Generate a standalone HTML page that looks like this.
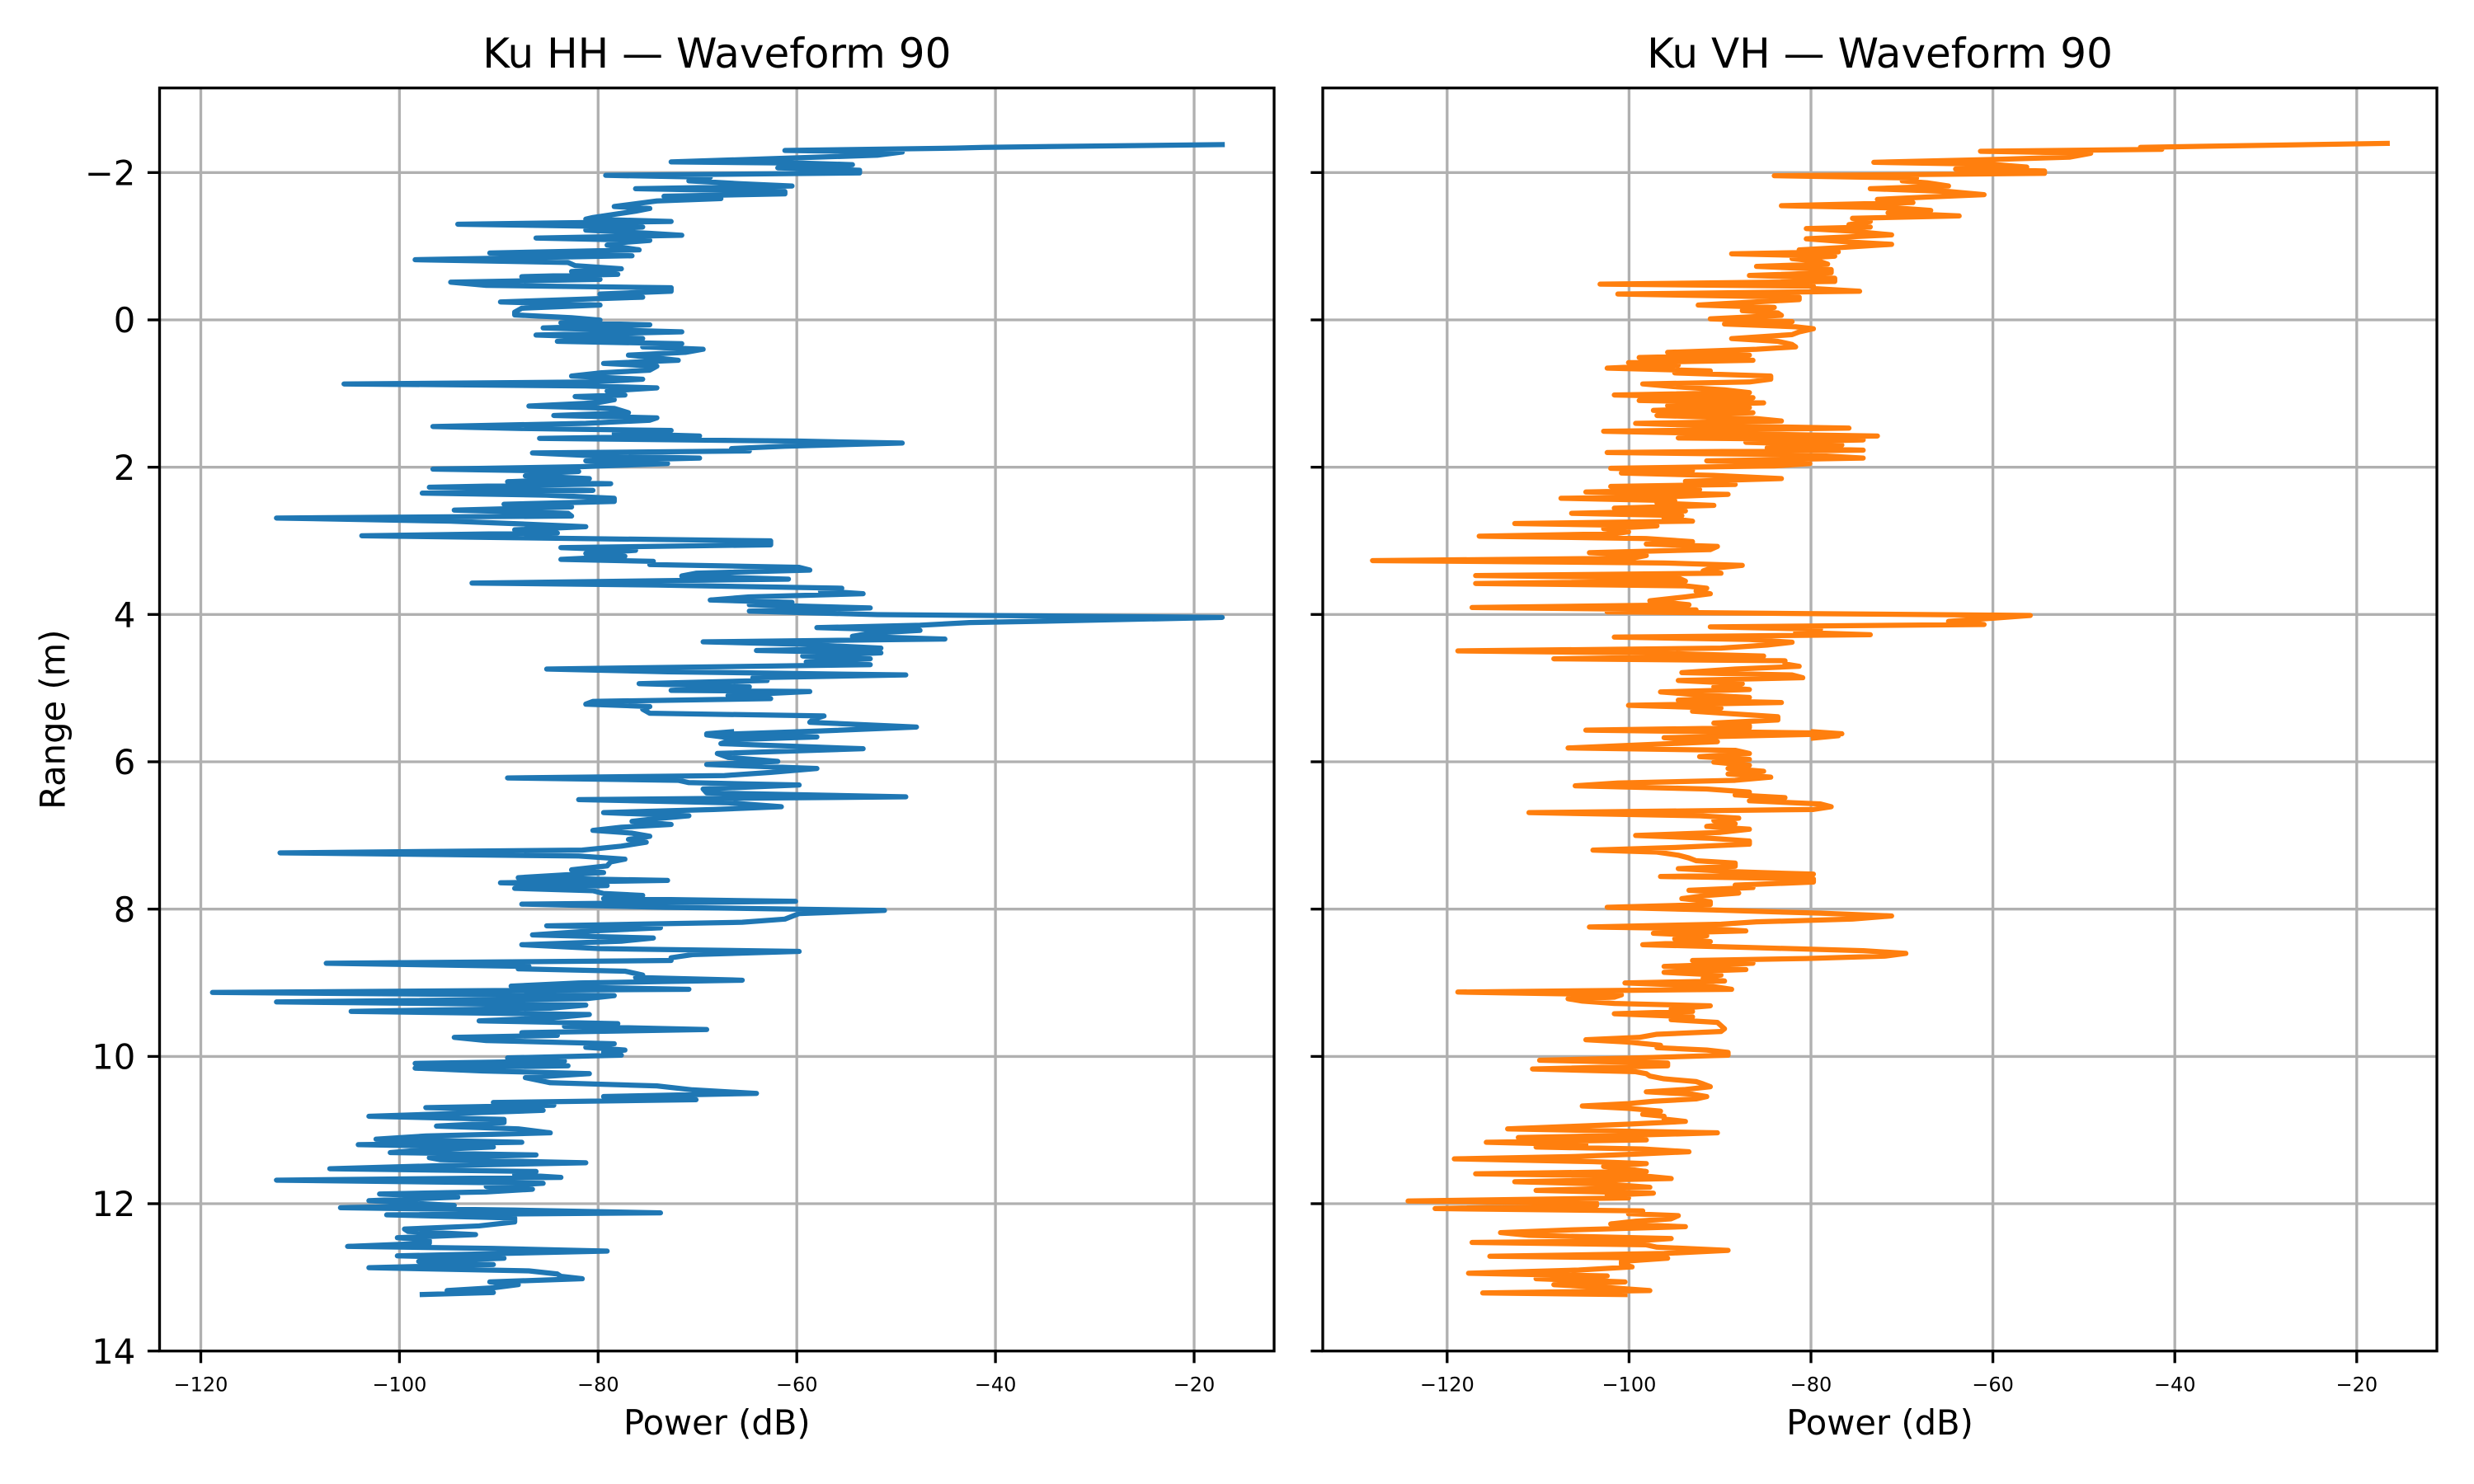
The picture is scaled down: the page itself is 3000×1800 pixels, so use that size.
<!DOCTYPE html>
<html>
<head>
<meta charset="utf-8">
<style>
html,body{margin:0;padding:0;background:#fff;}
svg{display:block;}
text{font-family:"DejaVu Sans","Liberation Sans",sans-serif;fill:#000;}
</style>
</head>
<body>
<svg width="3000" height="1800" viewBox="0 0 3000 1800" xmlns="http://www.w3.org/2000/svg">
<rect x="0" y="0" width="3000" height="1800" fill="#fff"/>
<defs>
<clipPath id="cl"><rect x="193.5" y="106.7" width="1351.5" height="1532"/></clipPath>
<clipPath id="cr"><rect x="1604" y="106.7" width="1351" height="1532"/></clipPath>
</defs>

<!-- LEFT GRID -->
<g stroke="#b0b0b0" stroke-width="3.33" fill="none">
<line x1="243.5" y1="106.7" x2="243.5" y2="1638.7"/>
<line x1="484.4" y1="106.7" x2="484.4" y2="1638.7"/>
<line x1="725.3" y1="106.7" x2="725.3" y2="1638.7"/>
<line x1="966.2" y1="106.7" x2="966.2" y2="1638.7"/>
<line x1="1207.1" y1="106.7" x2="1207.1" y2="1638.7"/>
<line x1="1448" y1="106.7" x2="1448" y2="1638.7"/>
<line x1="193.5" y1="209.3" x2="1545" y2="209.3"/>
<line x1="193.5" y1="388" x2="1545" y2="388"/>
<line x1="193.5" y1="566.7" x2="1545" y2="566.7"/>
<line x1="193.5" y1="745.3" x2="1545" y2="745.3"/>
<line x1="193.5" y1="924" x2="1545" y2="924"/>
<line x1="193.5" y1="1102.7" x2="1545" y2="1102.7"/>
<line x1="193.5" y1="1281.4" x2="1545" y2="1281.4"/>
<line x1="193.5" y1="1460" x2="1545" y2="1460"/>
</g>
<!-- RIGHT GRID -->
<g stroke="#b0b0b0" stroke-width="3.33" fill="none">
<line x1="1754.8" y1="106.7" x2="1754.8" y2="1638.7"/>
<line x1="1975.4" y1="106.7" x2="1975.4" y2="1638.7"/>
<line x1="2196" y1="106.7" x2="2196" y2="1638.7"/>
<line x1="2416.6" y1="106.7" x2="2416.6" y2="1638.7"/>
<line x1="2637.2" y1="106.7" x2="2637.2" y2="1638.7"/>
<line x1="2857.8" y1="106.7" x2="2857.8" y2="1638.7"/>
<line x1="1604" y1="209.3" x2="2955" y2="209.3"/>
<line x1="1604" y1="388" x2="2955" y2="388"/>
<line x1="1604" y1="566.7" x2="2955" y2="566.7"/>
<line x1="1604" y1="745.3" x2="2955" y2="745.3"/>
<line x1="1604" y1="924" x2="2955" y2="924"/>
<line x1="1604" y1="1102.7" x2="2955" y2="1102.7"/>
<line x1="1604" y1="1281.4" x2="2955" y2="1281.4"/>
<line x1="1604" y1="1460" x2="2955" y2="1460"/>
</g>

<!-- HH series -->
<g clip-path="url(#cl)">
<polyline fill="none" stroke="#1f77b4" stroke-width="6.25" stroke-linejoin="round" stroke-linecap="square" vector-effect="non-scaling-stroke" transform="matrix(0.862245 0 0 0.478316 193 150)" points="1495,53 1160,60 1120,62 880,68 1045,72 1010,80 720,97 905,100 975,104 870,112 985,118 985,125 628,131 775,136 745,145 815,152 890,158 670,165 880,172 880,178 710,184 790,190 700,196 640,210 690,215 670,222 610,238 600,242 720,248 420,255 680,262 600,270 690,278 735,283 530,290 690,296 640,303 630,308 675,320 465,328 665,335 360,345 575,352 585,360 650,368 580,375 645,382 510,388 620,395 410,402 460,410 720,416 720,425 620,432 680,440 480,452 620,460 510,468 500,478 500,485 580,492 620,498 565,505 690,510 540,518 735,528 530,536 680,545 560,552 735,558 680,566 765,572 740,580 660,587 730,600 625,608 700,615 690,625 620,632 580,640 680,648 610,655 260,660 600,665 700,670 630,678 655,688 585,692 640,700 615,708 520,716 640,722 660,733 555,740 700,746 690,752 600,760 385,768 510,773 720,778 640,786 760,792 535,798 900,805 1045,810 880,818 805,824 830,830 525,835 610,842 760,848 600,855 715,862 590,870 385,876 590,882 520,888 515,893 605,900 490,908 635,913 380,922 610,930 370,937 545,942 640,950 640,958 485,965 580,972 415,980 575,988 580,995 165,1000 410,1008 510,1015 600,1022 500,1030 560,1038 285,1045 500,1050 860,1058 860,1068 565,1075 670,1082 600,1090 655,1097 565,1105 695,1110 690,1118 900,1125 915,1132 755,1140 735,1147 885,1155 440,1165 700,1170 960,1178 930,1185 990,1192 830,1200 775,1208 890,1214 830,1220 1000,1228 830,1236 1010,1245 1495,1252 1290,1260 1140,1265 1070,1272 925,1278 1070,1285 1000,1292 975,1300 1105,1307 765,1314 900,1320 1015,1330 840,1336 1015,1342 905,1350 1000,1357 910,1365 1000,1372 545,1383 715,1390 1050,1398 835,1405 855,1412 675,1420 830,1428 720,1437 915,1440 800,1450 860,1458 610,1465 600,1472 690,1478 680,1485 690,1495 935,1502 920,1510 915,1518 1065,1530 930,1540 770,1550 805,1558"/>
<polyline fill="none" stroke="#1f77b4" stroke-width="6.25" stroke-linejoin="round" stroke-linecap="square" vector-effect="non-scaling-stroke" transform="matrix(0.862245 0 0 0.478316 193 890)" points="805,-5 770,0 925,8 805,15 790,25 990,38 785,50 800,60 870,70 770,78 925,88 860,98 795,106 490,112 730,118 745,124 900,130 765,140 770,150 1050,160 590,167 800,175 875,185 780,192 625,200 745,208 700,215 665,222 720,230 650,237 610,245 665,252 690,260 660,268 685,275 650,285 595,295 170,302 590,310 655,318 635,325 630,335 580,345 625,352 505,365 715,372 480,378 630,385 500,392 610,398 625,405 680,410 625,418 895,425 510,432 710,440 1020,448 900,456 880,470 820,478 545,487 705,492 610,500 525,510 695,518 650,526 510,535 620,545 900,552 750,560 720,568 720,575 235,582 520,590 505,596 655,602 680,612 670,618 820,625 590,632 495,640 745,648 75,656 640,664 600,672 165,680 600,688 550,696 270,704 605,712 555,720 450,728 645,735 570,742 770,750 510,758 560,765 415,770 460,778 640,786 600,795 655,802 625,808 650,815 490,822 570,830 360,836 575,842 360,848 455,855 605,862 515,872 550,885 700,893 750,903 840,912 625,920 755,928 470,935 555,942 375,948 540,955 430,962 295,970 485,978 485,986 390,995 505,1002 550,1012 375,1020 305,1028 510,1036 280,1042 470,1048 375,1055 325,1062 530,1068 380,1075 395,1080 600,1088 400,1095 240,1103 530,1110 500,1118 565,1125 165,1132 540,1140 460,1148 525,1155 460,1162 310,1167 420,1175 295,1184 350,1190 415,1196 255,1202 500,1208 705,1215 320,1220 500,1228 500,1238 450,1248 345,1256 350,1262 445,1270 335,1278 380,1285 380,1292 265,1300 470,1305 630,1312 480,1318 335,1324 485,1330 365,1338 470,1346 295,1354 520,1362 560,1370 565,1376 595,1382 465,1390 505,1397 470,1405 405,1412 470,1417 370,1422"/>
</g>

<!-- VH series -->
<g clip-path="url(#cr)">
<polyline fill="none" stroke="#ff7f0e" stroke-width="6.25" stroke-linejoin="round" stroke-linecap="square" vector-effect="non-scaling-stroke" transform="matrix(0.862245 0 0 0.478316 1604 150)" points="1497,50 1150,60 1180,65 925,70 1080,75 1050,85 960,90 775,98 940,103 990,110 890,115 1015,120 1015,126 635,132 835,138 815,145 850,150 880,158 770,165 880,172 930,180 850,186 780,192 830,200 645,208 810,214 855,220 795,226 895,234 745,240 770,248 740,256 770,262 680,266 740,272 800,282 680,292 740,300 800,306 730,314 670,320 725,325 575,330 720,336 660,342 700,350 710,356 610,362 715,370 715,378 600,385 720,392 720,400 390,407 690,412 690,418 755,425 415,432 670,440 670,446 600,453 528,460 635,466 590,474 640,480 645,486 545,495 660,502 565,508 665,515 690,520 670,528 660,535 575,545 640,552 660,560 665,566 610,572 485,580 600,587 445,593 605,600 430,606 500,612 400,620 545,627 495,632 630,640 630,648 600,655 450,660 495,667 565,675 600,682 410,688 605,695 445,702 620,708 485,715 600,720 465,727 605,733 470,740 610,748 645,754 440,760 545,766 740,772 395,780 565,786 780,792 500,797 760,802 595,808 730,815 625,822 760,828 400,834 680,840 760,848 540,855 685,862 635,868 405,874 520,880 420,886 550,892 645,900 510,907 580,915 405,920 530,928 370,934 570,940 485,946 335,950 495,956 470,962 550,968 410,975 510,982 350,988 505,994 480,1000 520,1008 270,1014 470,1020 395,1027 430,1035 410,1040 220,1046 455,1052 520,1060 455,1066 555,1072 545,1080 375,1088 455,1095 435,1102 70,1108 480,1114 590,1120 545,1128 535,1134 560,1140 215,1146 500,1152 510,1160 215,1166 510,1172 540,1178 525,1185 545,1192 510,1200 460,1210 515,1220 210,1227 525,1233 400,1238 660,1242 995,1247 935,1255 880,1262 930,1270 545,1276 700,1282 665,1290 770,1296 410,1302 600,1308 660,1315 625,1322 560,1330 190,1337 455,1342 620,1350 325,1357 650,1362 650,1370 670,1376 580,1383 505,1392 660,1398 675,1405 500,1412 590,1420 550,1428 600,1435 475,1441 525,1448 600,1455 500,1462 645,1468 430,1475 560,1482 520,1490 580,1497 640,1504 640,1512 550,1520 600,1526 600,1532 370,1538 690,1545 725,1552 690,1558"/>
<polyline fill="none" stroke="#ff7f0e" stroke-width="6.25" stroke-linejoin="round" stroke-linecap="square" vector-effect="non-scaling-stroke" transform="matrix(0.862245 0 0 0.478316 1604 890)" points="690,-5 730,0 480,10 555,20 345,36 580,42 600,50 530,58 600,65 550,72 600,80 570,88 620,95 570,102 630,110 580,118 415,125 355,132 540,140 600,148 580,155 650,162 600,170 700,178 715,185 690,192 290,200 530,208 585,214 550,220 580,228 540,235 600,242 560,250 440,258 545,265 600,272 600,280 500,288 380,295 470,300 500,308 515,315 525,322 580,328 580,336 500,342 580,350 690,356 475,362 690,368 690,376 580,384 605,390 515,397 585,404 540,410 505,418 545,426 545,433 400,440 550,447 700,455 800,462 745,470 610,477 560,483 375,490 550,495 595,500 465,506 540,512 495,520 545,527 450,535 600,542 760,550 820,557 790,564 680,570 520,575 605,582 480,590 595,598 480,605 560,612 535,620 565,627 425,632 545,640 575,648 190,655 420,662 410,668 345,672 365,678 410,684 545,690 490,698 520,704 410,710 520,718 490,725 555,732 560,740 565,748 560,755 470,762 445,770 370,776 430,782 475,790 470,796 540,802 570,808 570,815 445,822 305,828 485,835 485,842 295,850 440,857 455,862 460,868 480,875 525,882 535,888 545,895 510,902 455,908 520,914 540,920 525,926 465,932 430,938 365,944 430,950 475,957 450,965 480,970 480,977 510,983 430,990 345,996 260,1002 430,1008 555,1012 435,1018 275,1024 455,1030 230,1036 370,1042 300,1048 450,1053 515,1060 440,1066 355,1072 185,1078 380,1085 455,1090 395,1097 430,1104 455,1110 215,1116 455,1122 490,1128 270,1136 400,1142 460,1150 300,1158 465,1165 400,1170 430,1177 120,1185 385,1190 385,1196 158,1204 450,1210 430,1217 500,1222 490,1230 440,1236 405,1243 510,1250 350,1258 250,1265 290,1272 490,1280 440,1286 210,1290 455,1296 470,1302 570,1310 480,1318 235,1325 485,1330 420,1338 420,1345 435,1352 360,1360 205,1368 400,1375 300,1382 425,1390 325,1397 405,1405 460,1412 225,1418 425,1422"/>
</g>

<!-- SPINES -->
<rect x="193.5" y="106.7" width="1351.5" height="1532" fill="none" stroke="#000" stroke-width="3.33"/>
<rect x="1604" y="106.7" width="1351" height="1532" fill="none" stroke="#000" stroke-width="3.33"/>

<!-- TICK MARKS -->
<g stroke="#000" stroke-width="3.33">
<!-- left y ticks -->
<line x1="178.9" y1="209.3" x2="193.5" y2="209.3"/>
<line x1="178.9" y1="388" x2="193.5" y2="388"/>
<line x1="178.9" y1="566.7" x2="193.5" y2="566.7"/>
<line x1="178.9" y1="745.3" x2="193.5" y2="745.3"/>
<line x1="178.9" y1="924" x2="193.5" y2="924"/>
<line x1="178.9" y1="1102.7" x2="193.5" y2="1102.7"/>
<line x1="178.9" y1="1281.4" x2="193.5" y2="1281.4"/>
<line x1="178.9" y1="1460" x2="193.5" y2="1460"/>
<line x1="178.9" y1="1638.7" x2="193.5" y2="1638.7"/>
<!-- right y ticks -->
<line x1="1589.4" y1="209.3" x2="1604" y2="209.3"/>
<line x1="1589.4" y1="388" x2="1604" y2="388"/>
<line x1="1589.4" y1="566.7" x2="1604" y2="566.7"/>
<line x1="1589.4" y1="745.3" x2="1604" y2="745.3"/>
<line x1="1589.4" y1="924" x2="1604" y2="924"/>
<line x1="1589.4" y1="1102.7" x2="1604" y2="1102.7"/>
<line x1="1589.4" y1="1281.4" x2="1604" y2="1281.4"/>
<line x1="1589.4" y1="1460" x2="1604" y2="1460"/>
<line x1="1589.4" y1="1638.7" x2="1604" y2="1638.7"/>
<!-- left x ticks -->
<line x1="243.5" y1="1638.7" x2="243.5" y2="1653.3"/>
<line x1="484.4" y1="1638.7" x2="484.4" y2="1653.3"/>
<line x1="725.3" y1="1638.7" x2="725.3" y2="1653.3"/>
<line x1="966.2" y1="1638.7" x2="966.2" y2="1653.3"/>
<line x1="1207.1" y1="1638.7" x2="1207.1" y2="1653.3"/>
<line x1="1448" y1="1638.7" x2="1448" y2="1653.3"/>
<!-- right x ticks -->
<line x1="1754.8" y1="1638.7" x2="1754.8" y2="1653.3"/>
<line x1="1975.4" y1="1638.7" x2="1975.4" y2="1653.3"/>
<line x1="2196" y1="1638.7" x2="2196" y2="1653.3"/>
<line x1="2416.6" y1="1638.7" x2="2416.6" y2="1653.3"/>
<line x1="2637.2" y1="1638.7" x2="2637.2" y2="1653.3"/>
<line x1="2857.8" y1="1638.7" x2="2857.8" y2="1653.3"/>
</g>

<!-- Y TICK LABELS -->
<g font-size="41.67" text-anchor="end">
<text x="164.3" y="224.5">−2</text>
<text x="164.3" y="403.2">0</text>
<text x="164.3" y="581.9">2</text>
<text x="164.3" y="760.5">4</text>
<text x="164.3" y="939.2">6</text>
<text x="164.3" y="1117.9">8</text>
<text x="164.3" y="1296.6">10</text>
<text x="164.3" y="1475.2">12</text>
<text x="164.3" y="1653.9">14</text>
</g>

<!-- X TICK LABELS -->
<g font-size="24" text-anchor="middle">
<text x="243.5" y="1687.7">−120</text>
<text x="484.4" y="1687.7">−100</text>
<text x="725.3" y="1687.7">−80</text>
<text x="966.2" y="1687.7">−60</text>
<text x="1207.1" y="1687.7">−40</text>
<text x="1448" y="1687.7">−20</text>
<text x="1754.8" y="1687.7">−120</text>
<text x="1975.4" y="1687.7">−100</text>
<text x="2196" y="1687.7">−80</text>
<text x="2416.6" y="1687.7">−60</text>
<text x="2637.2" y="1687.7">−40</text>
<text x="2857.8" y="1687.7">−20</text>
</g>

<!-- AXIS LABELS -->
<g font-size="41.67" text-anchor="middle">
<text x="869.3" y="1740">Power (dB)</text>
<text x="2279.5" y="1740">Power (dB)</text>
<text transform="translate(78.3,872.7) rotate(-90)">Range (m)</text>
</g>

<!-- TITLES -->
<g font-size="50" text-anchor="middle">
<text x="869.3" y="82">Ku HH — Waveform 90</text>
<text x="2279.5" y="82">Ku VH — Waveform 90</text>
</g>
</svg>
</body>
</html>
